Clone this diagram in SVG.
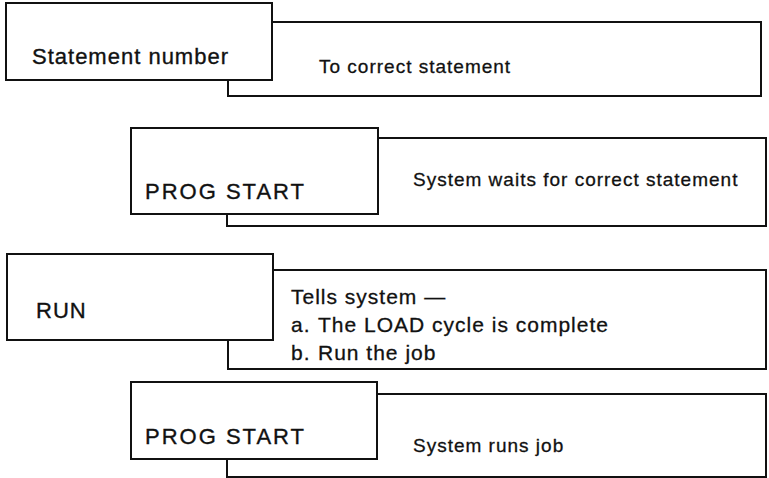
<svg xmlns="http://www.w3.org/2000/svg" width="769" height="478" viewBox="0 0 769 478">
  <style>
    .key { fill: #ffffff; stroke: #111111; stroke-width: 2; }
    .desc { fill: none; stroke: #111111; stroke-width: 2; }
    .keytext { font-family: "Liberation Sans", Arial, sans-serif; font-size: 22px; letter-spacing: 1px; fill: #111111; stroke: #111111; stroke-width: 0.35px; }
    .desctext { font-family: "Liberation Sans", Arial, sans-serif; font-size: 19px; letter-spacing: 1px; fill: #111111; stroke: #111111; stroke-width: 0.3px; }
    .desctext.large { font-size: 21px; }
  </style>
  <rect width="769" height="478" fill="#ffffff"/>

  <!-- Step 1: enter statement number -->
  <g id="step-statement-number">
    <path class="desc" d="M272,22 H761 V96 H228 V80"/>
    <rect class="key" x="6" y="3" width="266" height="77"/>
    <text class="keytext" x="32" y="64">Statement number</text>
    <text class="desctext" x="319" y="73">To correct statement</text>
  </g>

  <!-- Step 2: PROG START -->
  <g id="step-prog-start-1">
    <path class="desc" d="M378,138 H766 V226 H227 V214"/>
    <rect class="key" x="131" y="128" width="247" height="86"/>
    <text class="keytext" x="145" y="199" style="letter-spacing:2px">PROG START</text>
    <text class="desctext" x="413" y="186">System waits for correct statement</text>
  </g>

  <!-- Step 3: RUN -->
  <g id="step-run">
    <path class="desc" d="M273,270 H766 V369 H228 V340"/>
    <rect class="key" x="7" y="254" width="266" height="86"/>
    <text class="keytext" x="36" y="318">RUN</text>
    <text class="desctext large" x="291" y="304">Tells system —</text>
    <text class="desctext large" y="332"><tspan x="291">a.</tspan><tspan x="318">The LOAD cycle is complete</tspan></text>
    <text class="desctext large" y="360"><tspan x="291">b.</tspan><tspan x="318">Run the job</tspan></text>
  </g>

  <!-- Step 4: PROG START -->
  <g id="step-prog-start-2">
    <path class="desc" d="M377,394 H766 V477 H227 V459"/>
    <rect class="key" x="131" y="382" width="246" height="77"/>
    <text class="keytext" x="145" y="444" style="letter-spacing:2px">PROG START</text>
    <text class="desctext" x="413" y="452">System runs job</text>
  </g>
</svg>
